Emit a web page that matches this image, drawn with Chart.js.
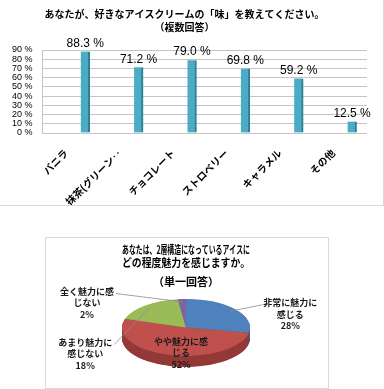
<!DOCTYPE html>
<html><head><meta charset="utf-8">
<script src="https://cdn.jsdelivr.net/npm/chart.js@4.4.1/dist/chart.umd.min.js"></script>
<style>
html,body{margin:0;padding:0;background:#fff;width:384px;height:389px;overflow:hidden;}
#f1{position:absolute;left:0;top:0;width:384px;height:206px;box-sizing:border-box;border-right:1px solid #d9d9d9;border-bottom:1px solid #d9d9d9;}
#f2{position:absolute;left:45px;top:237px;width:284px;height:152px;box-sizing:border-box;border:1px solid #d9d9d9;}
canvas{display:block;}
</style></head><body>
<div id="f1"><canvas id="c1" width="383" height="205"></canvas></div>
<div id="f2"><canvas id="c2" width="282" height="150"></canvas></div>
<script>
const FONT = '"Liberation Sans", "Noto Sans CJK JP", sans-serif';
const JFONT = '"Noto Sans CJK JP", "Liberation Sans", sans-serif';

// ---- data: bar chart ----
const barTitle = ['あなたが、好きなアイスクリームの「味」を教えてください。', '（複数回答）'];
const flavors = ['バニラ', '抹茶(グリーン‥', 'チョコレート', 'ストロベリー', 'キャラメル', 'その他'];
const flavorPct = [88.3, 71.2, 79.0, 69.8, 59.2, 12.5];
const pctTickStep = 10;
const pctMax = 90;

// ---- data: pie chart ----
const pieTitle = ['あなたは、2層構造になっているアイスに', 'どの程度魅力を感じますか。'];
const pieSubtitle = '（単一回答）';
const appeal = ['非常に魅力に感じる', 'やや魅力に感じる', 'あまり魅力に感じない', '全く魅力に感じない'];
const appealPct = [28, 52, 18, 2];

// ---- bar chart ----
const barLabels = {
  id: 'barLabels',
  afterDatasetsDraw(chart) {
    const ctx = chart.ctx;
    const meta = chart.getDatasetMeta(0);
    ctx.save();
    ctx.font = '12px ' + FONT;
    ctx.fillStyle = '#000';
    ctx.textAlign = 'center';
    ctx.textBaseline = 'middle';
    meta.data.forEach((bar, i) => {
      ctx.fillText(flavorPct[i].toFixed(1) + ' %', bar.x, bar.y - 8);
    });
    ctx.restore();
  }
};

new Chart(document.getElementById('c1'), {
  type: 'bar',
  data: {
    datasets: [{
      data: flavorPct.map((v, i) => ({ x: i, y: v })),
      backgroundColor: '#4BACC6',
      borderColor: '#2B7F97',
      borderWidth: { top: 0, right: 2, bottom: 0, left: 0 },
      borderSkipped: false,
      barThickness: 9
    }]
  },
  options: {
    responsive: false, animation: false, events: [],
    layout: { padding: { left: 2, right: 16, top: 0, bottom: 0 } },
    plugins: {
      legend: { display: false }, tooltip: { enabled: false },
      title: { display: true, text: barTitle, color: '#000',
        font: { family: JFONT, size: 10, weight: 'bold', lineHeight: 1.3 },
        padding: { top: 7.5, bottom: 16.5 } }
    },
    scales: {
      x: {
        type: 'linear', min: -0.8, max: 5.28, offset: false,
        grid: { display: false, offset: false }, border: { display: false },
        ticks: {
          stepSize: 1, includeBounds: false, autoSkip: false,
          minRotation: 45, maxRotation: 45, labelOffset: -19, padding: 6,
          color: '#000', font: { family: JFONT, size: 10, weight: 'bold' },
          callback: (v) => (flavors[v] !== undefined ? flavors[v] : '')
        },
        afterFit: (s) => { s.height = 72; }
      },
      y: {
        min: 0, max: pctMax,
        grid: { color: '#c4c4c4', drawTicks: false },
        border: { color: '#c4c4c4' },
        ticks: {
          stepSize: pctTickStep, autoSkip: false, padding: 10, color: '#000',
          font: { family: FONT, size: 9 },
          callback: (v) => v + ' %'
        }
      }
    }
  },
  plugins: [barLabels]
});

// ---- pie chart (3D look) ----
const pie3d = {
  id: 'pie3d',
  beforeDatasetsDraw(chart, args, opts) {
    const ctx = chart.ctx;
    const meta = chart.getDatasetMeta(0);
    const cx = meta.data[0].x, cy = meta.data[0].y;
    for (let d = opts.depth; d > 0; d -= 0.5) {
      ctx.save();
      ctx.translate(0, d);
      ctx.translate(cx, cy); ctx.scale(1, opts.k); ctx.translate(-cx, -cy);
      meta.data.forEach((arc, i) => {
        const side = Object.create(arc);
        side.options = Object.assign({}, arc.options, { backgroundColor: opts.sideColors[i], borderWidth: 0 });
        side.draw(ctx);
      });
      ctx.restore();
    }
    ctx.save();
    ctx.translate(cx, cy); ctx.scale(1, opts.k); ctx.translate(-cx, -cy);
  },
  afterDatasetsDraw(chart) {
    chart.ctx.restore();
  }
};

const pieLabels = {
  id: 'pieLabels',
  afterDraw(chart, args, opts) {
    const ctx = chart.ctx;
    const meta = chart.getDatasetMeta(0);
    const k = chart.options.plugins.pie3d.k;
    ctx.save();
    ctx.font = 'bold 9px ' + JFONT;
    ctx.textAlign = 'center';
    ctx.textBaseline = 'middle';
    meta.data.forEach((arc, i) => {
      const mid = (arc.startAngle + arc.endAngle) / 2;
      const r = arc.outerRadius;
      const o = opts.offsets[i];
      const lx = arc.x + r * Math.cos(mid) + o[0];
      const ly = arc.y + r * k * Math.sin(mid) + o[1];
      const name = appeal[i];
      const lines = [name.slice(0, 6), name.slice(6), appealPct[i] + '%'];
      const lh = opts.lineHeight;
      const y1 = ly - lh;
      if (o[2]) {
        const w1 = ctx.measureText(lines[0]).width;
        const ex = arc.x + r * 0.9 * Math.cos(mid);
        const ey = arc.y + r * 0.9 * k * Math.sin(mid);
        const tx = o[2] === 'right' ? lx + w1 / 2 + 2 : lx - w1 / 2 - 1;
        ctx.strokeStyle = '#8c8c8c';
        ctx.lineWidth = 0.8;
        ctx.beginPath(); ctx.moveTo(ex, ey); ctx.lineTo(tx, y1 + 2); ctx.stroke();
      }
      ctx.fillStyle = '#1a1a1a';
      lines.forEach((t, j) => ctx.fillText(t, lx, y1 + j * lh));
    });
    ctx.restore();
  }
};

new Chart(document.getElementById('c2'), {
  type: 'pie',
  data: {
    labels: appeal,
    datasets: [{
      data: appealPct,
      backgroundColor: ['#4F81BD', '#C0504D', '#9BBB59', '#8064A2'],
      borderWidth: 0, radius: 64, clip: false
    }]
  },
  options: {
    responsive: false, animation: false, events: [],
    layout: { padding: { left: 76, right: 78, top: 0, bottom: 21.5 } },
    plugins: {
      legend: { display: false }, tooltip: { enabled: false },
      title: { display: true, text: pieTitle, color: '#000',
        font: { family: JFONT, size: 11, weight: 'bold', lineHeight: 1.18 },
        padding: { top: 5.5, bottom: 0 } },
      subtitle: { display: true, text: pieSubtitle, color: '#000',
        font: { family: JFONT, size: 11, weight: 'bold', lineHeight: 1.18 },
        padding: { top: 6, bottom: 0 } },
      pie3d: { k: 0.445, depth: 11, sideColors: ['#37608f', '#933a38', '#72903f', '#5e497c'] },
      pieLabels: { lineHeight: 11.5, offsets: [[55, 5, 'left'], [11, -2, null], [-60, 48.5, 'right'], [-95, 4, 'right']] }
    }
  },
  plugins: [pie3d, pieLabels]
});
</script>
</body></html>
